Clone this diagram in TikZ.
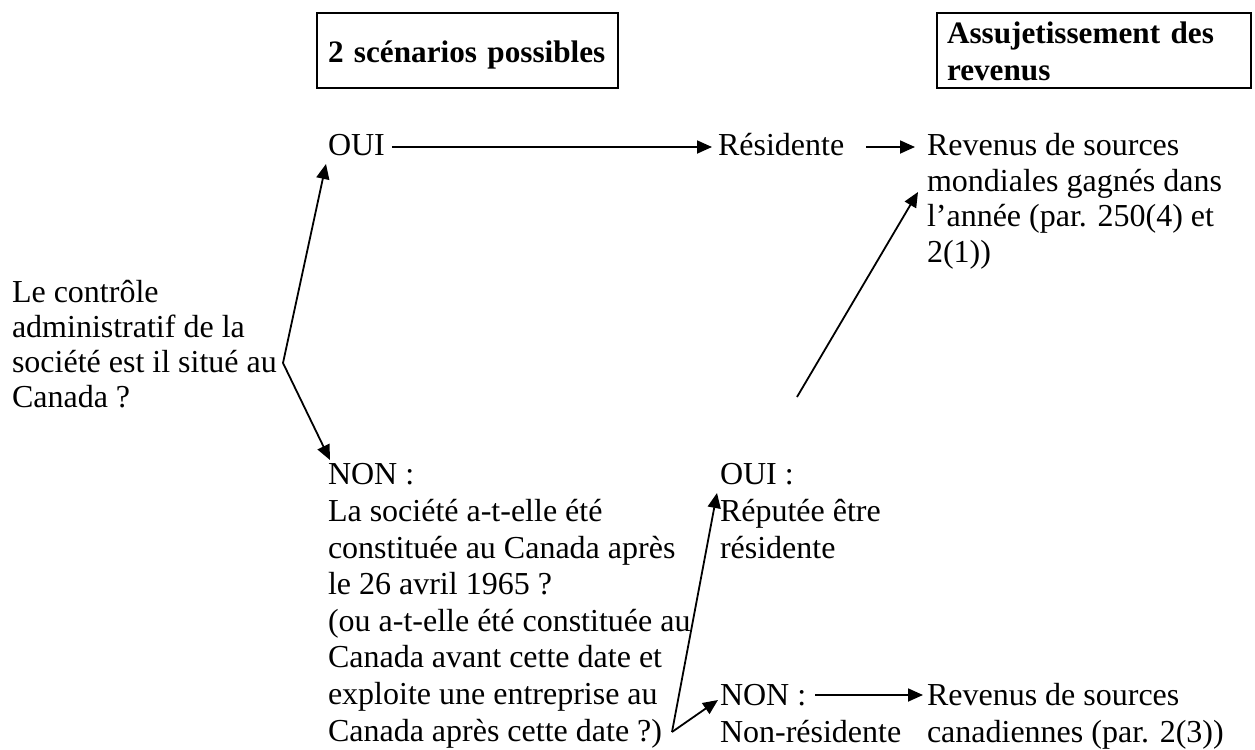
\documentclass[tikz,border=0pt]{standalone}
\usepackage{fontspec}
\setmainfont{Liberation Serif}
\usetikzlibrary{arrows.meta}
\begin{document}
\begin{tikzpicture}[x=0.5pt,y=-0.5pt,
  % multi-line texts are placed by the baseline of their last line
  txt/.style={inner sep=0pt, outer sep=0pt, anchor=base west, align=left},
  one/.style={txt, text height=11.2pt, text depth=3.2pt},
  frame/.style={draw, line width=1.2pt, inner ysep=0pt, outer sep=0pt, anchor=north west,
    align=left, font=\fontsize{15.6}{18.5}\selectfont\bfseries},
  arr/.style={line width=0.9pt, -{Triangle[length=7.5pt,width=6.5pt]}}]
\useasboundingbox (0,0) rectangle (1255,750);

% column headers (boxes from y=13 to y=88; first baseline measured from the top)
\node (box1) [frame, text width=139.5pt, inner xsep=5.5pt, text height=24.5pt, text depth=13pt]
  at (317,13) {\mbox{2 scénarios possibles}};
\node (box2) [frame, text width=147pt, inner xsep=5pt, text height=15pt, text depth=22.5pt]
  at (937,13) {Assujetissement des\\revenus};

% question
\node (q) [txt, font=\fontsize{16}{17.5}\selectfont] at (12,407)
  {Le contrôle\\administratif de la\\société est il situé au\\Canada ?};

% first answer: yes
\node (oui1) [one, font=\fontsize{16}{18}\selectfont] at (328,155) {OUI};
\node (res) [one, font=\fontsize{16}{18}\selectfont] at (718,155) {Résidente};
\node (rev1) [txt, font=\fontsize{16}{17.75}\selectfont] at (927,262)
  {Revenus de sources\\mondiales gagnés dans\\l’année (par. 250(4) et\\2(1))};

% first answer: no
\node (non1) [txt, font=\fontsize{16}{18.3}\selectfont] at (328,741)
  {NON :\\La société a-t-elle été\\constituée au Canada après\\le 26 avril 1965 ?\\(ou a-t-elle été constituée au\\Canada avant cette date et\\exploite une entreprise au\\Canada après cette date ?)};
\node (oui2) [txt, font=\fontsize{16}{18.3}\selectfont] at (720,558)
  {OUI :\\Réputée être\\résidente};
\node (non2) [txt, font=\fontsize{16}{18.3}\selectfont] at (720,742)
  {NON :\\Non-résidente};
\node (rev2) [txt, font=\fontsize{16}{18.3}\selectfont] at (927,742)
  {Revenus de sources\\canadiennes (par. 2(3))};

% connector end points
\coordinate (v) at (283,363);
\coordinate (a1) at (326,164);
\coordinate (a2) at (330,460);
\coordinate (t1) at (797,397);
\coordinate (t2) at (918,192);
\coordinate (j) at (672,732);
\coordinate (a3) at (717,493);
\coordinate (a4) at (718,700);
\coordinate (n2a) at (815,695);
\coordinate (n2b) at (923,695);

% connectors
\draw[arr] (v) -- (a1);
\draw[arr] (v) -- (a2);
\draw[arr, shorten <=3.5pt, shorten >=3pt] (oui1) -- (res);
\draw[arr, shorten <=11pt, shorten >=6pt] (res) -- (res -| rev1.west);
\draw[arr] (t1) -- (t2);
\draw[arr] (j) -- (a3);
\draw[arr] (j) -- (a4);
\draw[arr] (n2a) -- (n2b);
\end{tikzpicture}
\end{document}
